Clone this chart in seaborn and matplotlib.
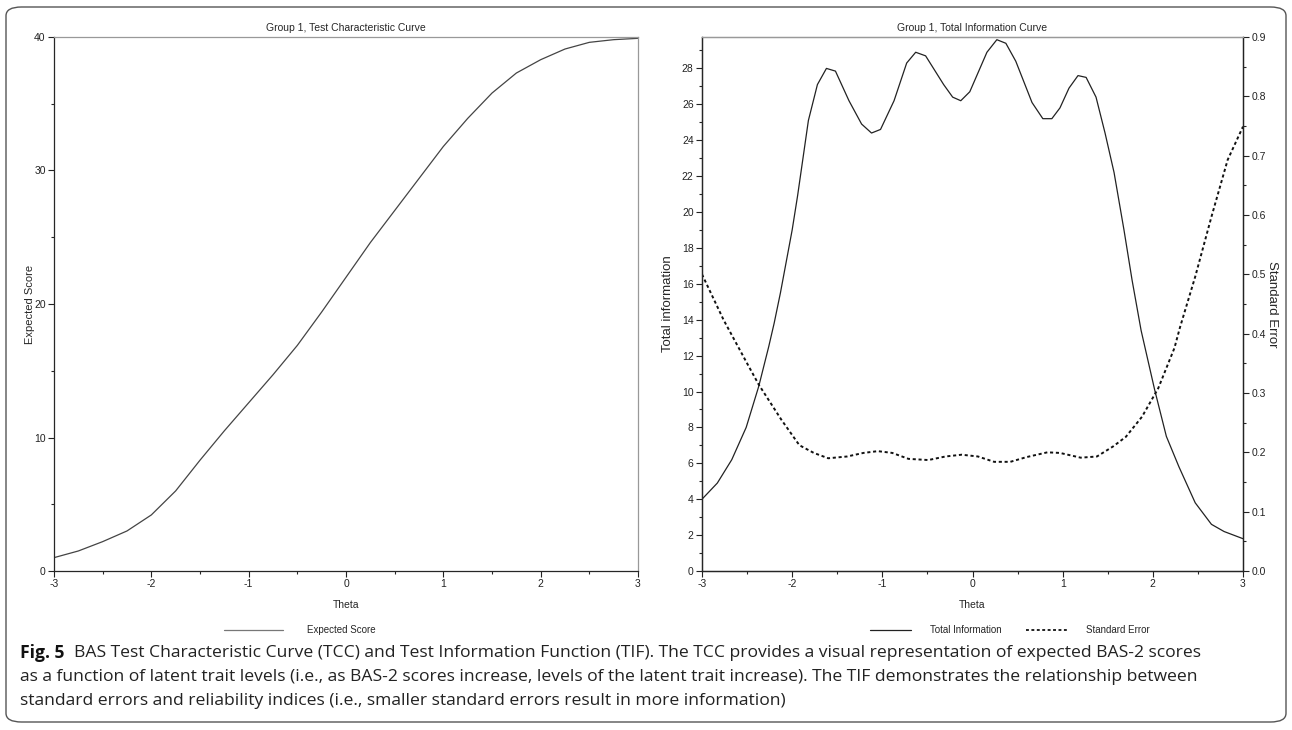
import numpy as np
import pandas as pd
import matplotlib
matplotlib.use("Agg")
import matplotlib.pyplot as plt
from matplotlib import font_manager
from matplotlib.lines import Line2D
from matplotlib.patches import FancyBboxPatch
from matplotlib.ticker import MultipleLocator, FormatStrFormatter
import seaborn as sns

# Test characteristic curve
tcc_theta = [-3.0, -2.75, -2.5, -2.25, -2.0, -1.75, -1.5, -1.25, -1.0, -0.75, -0.5, -0.25, 0.0,
             0.25, 0.5, 0.75, 1.0, 1.25, 1.5, 1.75, 2.0, 2.25, 2.5, 2.75, 3.0]
tcc_score = [1.0, 1.5, 2.2, 3.0, 4.2, 6.0, 8.3, 10.5, 12.6, 14.7, 16.9, 19.4, 22.0,
             24.6, 27.0, 29.4, 31.8, 33.9, 35.8, 37.3, 38.3, 39.1, 39.6, 39.8, 39.9]

# Total information curve
tif_theta = [-3.0, -2.83, -2.67, -2.51, -2.37, -2.26, -2.2, -2.13, -2.0, -1.94, -1.82, -1.72,
             -1.62, -1.52, -1.37, -1.23, -1.12, -1.02, -0.87, -0.73, -0.63, -0.52, -0.42, -0.32,
             -0.22, -0.13, -0.03, 0.16, 0.27, 0.37, 0.48, 0.66, 0.78, 0.88, 0.97, 1.07, 1.17,
             1.26, 1.37, 1.47, 1.57, 1.68, 1.77, 1.87, 2.02, 2.15, 2.29, 2.47, 2.65, 2.79, 3.0]
tif_info = [4.0, 4.9, 6.2, 8.0, 10.3, 12.5, 13.8, 15.5, 19.0, 20.9, 25.1, 27.1,
            28.0, 27.85, 26.2, 24.9, 24.4, 24.6, 26.2, 28.3, 28.9, 28.7, 27.9, 27.1,
            26.4, 26.2, 26.7, 28.9, 29.6, 29.4, 28.4, 26.1, 25.2, 25.2, 25.8, 26.9, 27.6,
            27.5, 26.4, 24.4, 22.2, 19.0, 16.2, 13.4, 10.1, 7.5, 5.8, 3.8, 2.6, 2.2, 1.8]

# Standard error curve
se_theta = [-3.0, -2.76, -2.5, -2.37, -2.12, -1.92, -1.76, -1.6, -1.39, -1.21, -1.05, -0.89,
            -0.71, -0.49, -0.3, -0.12, 0.06, 0.24, 0.42, 0.6, 0.83, 0.97, 1.2, 1.38, 1.56,
            1.7, 1.88, 2.06, 2.24, 2.3, 2.47, 2.65, 2.83, 3.0]
se_value = [0.50, 0.423, 0.35, 0.314, 0.255, 0.212, 0.199, 0.190, 0.193, 0.199, 0.202, 0.199,
            0.189, 0.187, 0.193, 0.196, 0.193, 0.184, 0.184, 0.192, 0.200, 0.199, 0.191, 0.193,
            0.21, 0.226, 0.26, 0.308, 0.376, 0.41, 0.496, 0.597, 0.693, 0.749]

caption_lines = [
    "BAS Test Characteristic Curve (TCC) and Test Information Function (TIF). The TCC provides a visual representation of expected BAS-2 scores",
    "as a function of latent trait levels (i.e., as BAS-2 scores increase, levels of the latent trait increase). The TIF demonstrates the relationship between",
    "standard errors and reliability indices (i.e., smaller standard errors result in more information)",
]

sns.set_style("ticks")
plt.rcParams["font.family"] = ["Liberation Sans", "DejaVu Sans"]
plt.rcParams["axes.unicode_minus"] = False
plt.rcParams["xtick.direction"] = "out"
plt.rcParams["ytick.direction"] = "out"

W, H = 1292, 730
fig = plt.figure(figsize=(W / 100, H / 100), dpi=100)
fig.patch.set_facecolor("white")

# rounded frame around the whole figure
fig.patches.append(FancyBboxPatch((6 / W, 8 / H), 1280 / W, 715 / H,
                                  boxstyle="round,pad=0,rounding_size=0.012",
                                  transform=fig.transFigure, fill=False,
                                  edgecolor="#555555", linewidth=1.0))

ax1 = fig.add_axes([54 / W, 1 - 571 / H, 584 / W, 534 / H])
ax2 = fig.add_axes([702 / W, 1 - 571 / H, 541 / W, 534 / H])
ax3 = ax2.twinx()

tick_fs = 7.5

# left: TCC
tcc = pd.DataFrame({"theta": tcc_theta, "score": tcc_score})
sns.lineplot(data=tcc, x="theta", y="score", ax=ax1, color="#444444", linewidth=0.9)
ax1.set_xlim(-3, 3)
ax1.set_ylim(0, 40)
ax1.xaxis.set_major_locator(MultipleLocator(1))
ax1.xaxis.set_minor_locator(MultipleLocator(0.5))
ax1.yaxis.set_major_locator(MultipleLocator(10))
ax1.yaxis.set_minor_locator(MultipleLocator(5))
ax1.set_title("Group 1, Test Characteristic Curve", fontsize=7.5, pad=4)
ax1.set_xlabel("Theta", fontsize=7.5, labelpad=8)
ax1.set_ylabel("Expected Score", fontsize=8, labelpad=-1)
for s in ["top", "right"]:
    ax1.spines[s].set_color("#999999")

# right: TIF + SE
tif = pd.DataFrame({"theta": tif_theta, "info": tif_info})
se = pd.DataFrame({"theta": se_theta, "se": se_value})
sns.lineplot(data=tif, x="theta", y="info", ax=ax2, color="#222222", linewidth=0.9)
sns.lineplot(data=se, x="theta", y="se", ax=ax3, color="#111111", linewidth=1.4,
             linestyle=(0, (1.6, 1.4)))
ax2.set_xlim(-3, 3)
ax2.set_ylim(0, 29.75)
ax3.set_ylim(0, 0.9)
ax2.xaxis.set_major_locator(MultipleLocator(1))
ax2.xaxis.set_minor_locator(MultipleLocator(0.5))
ax2.yaxis.set_major_locator(MultipleLocator(2))
ax2.yaxis.set_minor_locator(MultipleLocator(1))
ax3.yaxis.set_major_locator(MultipleLocator(0.1))
ax3.yaxis.set_minor_locator(MultipleLocator(0.05))
ax3.yaxis.set_major_formatter(FormatStrFormatter("%.1f"))
ax2.set_title("Group 1, Total Information Curve", fontsize=7.5, pad=4)
ax2.set_xlabel("Theta", fontsize=7.5, labelpad=8)
ax2.set_ylabel("Total information", fontsize=9.5, labelpad=6)
ax3.set_ylabel("Standard Error", fontsize=9.5, rotation=270, labelpad=9)
ax2.spines["top"].set_color("#999999")
ax3.spines["top"].set_color("#999999")

for a in [ax1, ax2, ax3]:
    a.tick_params(which="major", length=4, width=0.8, labelsize=tick_fs, pad=2, colors="#222222")
    a.tick_params(which="minor", length=2.5, width=0.8)
    for s in a.spines.values():
        s.set_linewidth(0.9)
ax3.spines["right"].set_color("#222222")

# legends below the panels
fig.legend(handles=[Line2D([], [], color="#777777", linewidth=0.9)], labels=["Expected Score"],
           loc="center", bbox_to_anchor=(300 / W, 1 - 630 / H), frameon=False,
           fontsize=7, handlelength=6, handletextpad=2.5)
fig.legend(handles=[Line2D([], [], color="#222222", linewidth=0.9),
                    Line2D([], [], color="#111111", linewidth=1.3, linestyle=(0, (1.6, 1.4)))],
           labels=["Total Information", "Standard Error"], ncol=2,
           loc="center", bbox_to_anchor=(1010 / W, 1 - 630 / H), frameon=False,
           fontsize=7, handlelength=4.2, handletextpad=2.0, columnspacing=2.5)

# caption
cap_font = ["Open Sans", "DejaVu Sans"]
cap_fs = 12.6
ys = [653, 677, 701]
bold = fig.text(20 / W, 1 - ys[0] / H, "Fig. 5", fontsize=cap_fs, fontweight="bold",
                family=cap_font, va="center", ha="left", color="#111111")
fig.canvas.draw()
bb = bold.get_window_extent(renderer=fig.canvas.get_renderer())
fig.text((bb.x1 + 9) / W, 1 - ys[0] / H, caption_lines[0], fontsize=cap_fs, family=cap_font,
         va="center", ha="left", color="#222222")
for y, line in zip(ys[1:], caption_lines[1:]):
    fig.text(20 / W, 1 - y / H, line, fontsize=cap_fs, family=cap_font,
             va="center", ha="left", color="#222222")

fig.savefig("out.png", dpi=100)
